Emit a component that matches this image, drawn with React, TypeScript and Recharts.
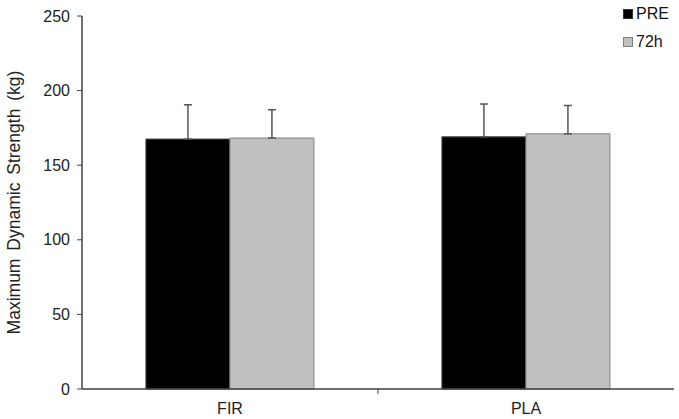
import React from "react";
import { BarChart, Bar, XAxis, YAxis, ErrorBar } from "recharts";

const categories = ["FIR", "PLA"];
const preValues = [167.5, 169];
const h72Values = [168.2, 171];
const preErrors = [23, 22];
const h72Errors = [19, 19];
const yTicks = [0, 50, 100, 150, 200, 250];
const seriesNames = ["PRE", "72h"];

const data = categories.map((c, i) => ({
  name: c,
  PRE: preValues[i],
  "72h": h72Values[i],
  preErr: [0, preErrors[i]],
  h72Err: [0, h72Errors[i]],
}));

const W = 679;
const H = 419;
const M = { top: 16, right: 5, left: 0, bottom: 0 };
const Y_W = 82;
const X_H = 30;
const FONT = "'Liberation Sans', Arial, sans-serif";
const plotW = W - M.left - M.right - Y_W;
const halfBand = plotW / categories.length / 2;

const XTick = (props: any) => {
  const { x, y, payload, index } = props;
  return (
    <g>
      <text x={x} y={y + 25} textAnchor="middle" fontSize={16} fill="#222" fontFamily={FONT}>
        {payload.value}
      </text>
      {index < categories.length - 1 && (
        <line x1={x + halfBand} x2={x + halfBand} y1={y} y2={y + 5} stroke="#404040" strokeWidth={1} />
      )}
    </g>
  );
};

const YLabel = (props: any) => {
  const vb = props.viewBox || {};
  const cy = (vb.y || 0) + (vb.height || 0) / 2;
  return (
    <text
      x={14}
      y={cy}
      transform={`rotate(-90, 14, ${cy})`}
      textAnchor="middle"
      dominantBaseline="central"
      fontSize={17.5}
      wordSpacing={3}
      fill="#222"
      fontFamily={FONT}
    >
      Maximum Dynamic Strength (kg)
    </text>
  );
};

const swatches = [
  { fill: "#000", border: "#333" },
  { fill: "#c0c0c0", border: "#808080" },
];

export default function App() {
  return (
    <div style={{ position: "absolute", left: 0, top: 0, width: W, height: H, background: "#fff" }}>
      <BarChart width={W} height={H} data={data} margin={M} barCategoryGap="21.6%" barGap={0}>
        <XAxis
          dataKey="name"
          height={X_H}
          tickSize={0}
          tickMargin={0}
          tick={<XTick />}
          axisLine={{ stroke: "#404040", strokeWidth: 1.5 }}
          tickLine={false}
          interval={0}
        />
        <YAxis
          width={Y_W}
          domain={[0, 250]}
          ticks={yTicks}
          tickSize={5}
          tickMargin={7}
          axisLine={{ stroke: "#404040", strokeWidth: 1.5 }}
          tickLine={{ stroke: "#404040" }}
          tick={{ fontSize: 16, fill: "#222", fontFamily: FONT }}
          label={<YLabel />}
        />
        <Bar dataKey="PRE" fill="#000" stroke="#404040" strokeWidth={1} isAnimationActive={false}>
          <ErrorBar dataKey="preErr" width={4} stroke="#555" strokeWidth={1.5} direction="y" />
        </Bar>
        <Bar dataKey="72h" fill="#c0c0c0" stroke="#808080" strokeWidth={1} isAnimationActive={false}>
          <ErrorBar dataKey="h72Err" width={4} stroke="#555" strokeWidth={1.5} direction="y" />
        </Bar>
      </BarChart>
      <div style={{ position: "absolute", left: 623, top: 4, fontFamily: FONT, fontSize: 16, color: "#111" }}>
        {seriesNames.map((n, i) => (
          <div key={n} style={{ display: "flex", alignItems: "center", height: 20, marginBottom: 8 }}>
            <span
              style={{
                display: "inline-block",
                width: 10,
                height: 10,
                background: swatches[i].fill,
                border: `1px solid ${swatches[i].border}`,
                marginRight: 3,
                boxSizing: "border-box",
              }}
            />
            <span>{n}</span>
          </div>
        ))}
      </div>
    </div>
  );
}
